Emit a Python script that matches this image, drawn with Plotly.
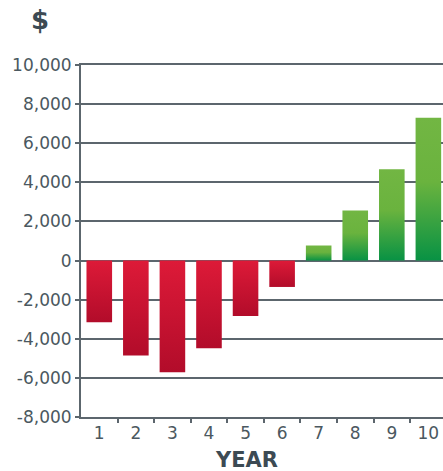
import plotly.graph_objects as go

# Annual cash position by year
years = [1, 2, 3, 4, 5, 6, 7, 8, 9, 10]
values = [-3150, -4850, -5710, -4480, -2840, -1350, 770, 2560, 4670, 7300]
y_ticks = [-8000, -6000, -4000, -2000, 0, 2000, 4000, 6000, 8000, 10000]

BAR_HALF = 0.35
RED_SCALE = [[0, "#b20c2a"], [1, "#dd1a38"]]
GREEN_SCALE = [[0, "#089244"], [0.55, "#6ab33e"], [1, "#72b643"]]
GRID = "#5c666d"
TEXT = "#4b5860"
TITLE = "#3c4a53"

fig = go.Figure()

# Each bar is a filled rectangle so it can carry a vertical gradient
for yr, v in zip(years, values):
    x0, x1 = yr - BAR_HALF, yr + BAR_HALF
    fig.add_trace(go.Scatter(
        x=[x0, x1, x1, x0, x0],
        y=[0, 0, v, v, 0],
        mode="lines",
        line=dict(width=0),
        fill="toself",
        fillgradient=dict(
            type="vertical",
            colorscale=RED_SCALE if v < 0 else GREEN_SCALE,
        ),
        hoverinfo="skip",
        showlegend=False,
    ))

fig.update_layout(
    width=443,
    height=471,
    margin=dict(l=81, r=0, t=65, b=54),
    plot_bgcolor="white",
    paper_bgcolor="white",
    font=dict(family="DejaVu Sans", size=17, color=TEXT),
    xaxis=dict(
        range=[0.5, 10.4],
        tickmode="array",
        tickvals=years,
        ticktext=[str(y) for y in years],
        ticks="",
        minor=dict(
            tickmode="array",
            tickvals=[y + 0.5 for y in years[:-1]],
            ticks="outside",
            ticklen=4,
            tickwidth=1.5,
            tickcolor=GRID,
            showgrid=False,
        ),
        showgrid=False,
        zeroline=False,
        showline=True,
        mirror=True,
        linecolor=GRID,
        linewidth=1.5,
        tickfont=dict(family="DejaVu Sans", size=17, color=TEXT),
    ),
    yaxis=dict(
        range=[-8000, 10000],
        tickmode="array",
        tickvals=y_ticks,
        ticktext=[f"{t:,}" for t in y_ticks],
        ticks="outside",
        ticklen=4,
        tickwidth=1.5,
        tickcolor=GRID,
        showgrid=True,
        gridcolor=GRID,
        gridwidth=1.5,
        zeroline=True,
        zerolinecolor=GRID,
        zerolinewidth=1.5,
        showline=True,
        linecolor=GRID,
        linewidth=2,
        tickfont=dict(family="DejaVu Sans", size=17, color=TEXT),
    ),
    annotations=[
        dict(text="<b>$</b>", xref="paper", yref="paper",
             x=(40 - 81) / 362, y=1 + (65 - 20) / 352,
             showarrow=False, xanchor="center", yanchor="middle",
             font=dict(family="DejaVu Sans", size=26, color=TITLE)),
        dict(text="<b>YEAR</b>", xref="paper", yref="paper",
             x=(246 - 81) / 362, y=-(460 - 417) / 352,
             showarrow=False, xanchor="center", yanchor="middle",
             font=dict(family="DejaVu Sans", size=21, color=TITLE)),
    ],
)

fig.write_html("out.html")
